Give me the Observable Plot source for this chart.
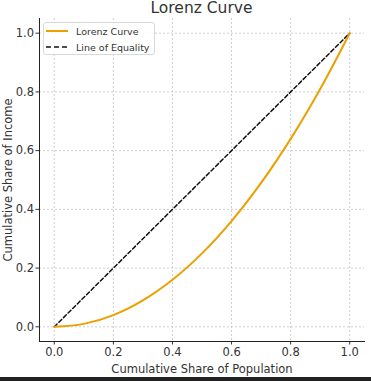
<!DOCTYPE html>
<html>
<head>
<meta charset="utf-8">
<script src="https://cdn.jsdelivr.net/npm/d3@7"></script>
<script src="https://cdn.jsdelivr.net/npm/@observablehq/plot@0.6"></script>
<style>
  html, body { margin: 0; padding: 0; background: #fff; }
  #wrap { position: relative; width: 371px; height: 381px; overflow: hidden; font-family: "DejaVu Sans", sans-serif; }
  #title { position: absolute; left: 0; width: 403px; top: 0px; line-height: 16px; text-align: center; font-size: 15.5px; color: #333; white-space: nowrap; }
  #chart { position: absolute; left: 0; top: 0; }
  #legend { position: absolute; left: 43px; top: 22px; width: 110px; height: 31px; border: 1px solid #d8d8d8; border-radius: 3px; background: rgba(255,255,255,0.85); font-size: 9.5px; color: #333; white-space: nowrap; }
  .row { position: absolute; left: 2px; height: 12px; display: flex; align-items: center; white-space: nowrap; }
  .sw { width: 22px; height: 4px; margin-right: 8px; flex: none; display: block; }
  #bar { position: absolute; left: 0; top: 377px; width: 371px; height: 4px; background: #222; }
</style>
</head>
<body>
<div id="wrap">
  <div id="chart"></div>
  <div id="title">Lorenz Curve</div>
  <div id="legend">
    <div class="row" style="top:2px"><svg class="sw"><line x1="0" x2="22" y1="2" y2="2" stroke="#eba000" stroke-width="2"/></svg><span>Lorenz Curve</span></div>
    <div class="row" style="top:18px"><svg class="sw"><line x1="0" x2="22" y1="2" y2="2" stroke="#111" stroke-width="1.5" stroke-dasharray="5,3"/></svg><span>Line of Equality</span></div>
  </div>
  <div id="bar"></div>
</div>
<script>
const population = [0, 0.1, 0.2, 0.3, 0.4, 0.5, 0.6, 0.7, 0.8, 0.9, 1.0];
const incomeShare = [0, 0.01, 0.04, 0.09, 0.16, 0.25, 0.36, 0.49, 0.64, 0.81, 1.0];
const equalityX = [0, 1];
const equalityY = [0, 1];
const ticks = [0, 0.2, 0.4, 0.6, 0.8, 1.0];
const xLabel = "Cumulative Share of Population";
const yLabel = "Cumulative Share of Income";

const lorenz = population.map((x, i) => ({x, y: incomeShare[i]}));
const equality = equalityX.map((x, i) => ({x, y: equalityY[i]}));
const dom = [-0.05, 1.05];

const chart = Plot.plot({
  width: 371,
  height: 378,
  marginLeft: 39,
  marginRight: 7,
  marginTop: 18,
  marginBottom: 37,
  style: {fontFamily: "DejaVu Sans, sans-serif", fontSize: "11px", color: "#333", background: "transparent"},
  x: {domain: dom, ticks: ticks, tickFormat: d3.format(".1f")},
  y: {domain: dom, ticks: ticks, tickFormat: d3.format(".1f")},
  marks: [
    Plot.gridX(ticks, {stroke: "#bbb", strokeOpacity: 0.7, strokeDasharray: "2,2"}),
    Plot.gridY(ticks, {stroke: "#bbb", strokeOpacity: 0.7, strokeDasharray: "2,2"}),
    Plot.axisX(ticks, {tickSize: 3.5, tickPadding: 3, label: null, fontSize: 11.5, tickFormat: d3.format(".1f")}),
    Plot.axisY(ticks, {tickSize: 3.5, tickPadding: 2, label: null, fontSize: 11.5, tickFormat: d3.format(".1f")}),
    Plot.axisX({frameAnchor: "bottom", ticks: [], label: xLabel, labelAnchor: "center", labelArrow: "none", labelOffset: 31, fontSize: 11.5}),
    Plot.axisY({frameAnchor: "left", ticks: [], label: yLabel, labelAnchor: "center", labelArrow: "none", labelOffset: 36, fontSize: 11.5}),
    Plot.frame({anchor: "left", stroke: "#222", strokeWidth: 1}),
    Plot.frame({anchor: "bottom", stroke: "#222", strokeWidth: 1}),
    Plot.line(equality, {x: "x", y: "y", stroke: "#111", strokeWidth: 1.5, strokeDasharray: "4,2.5"}),
    Plot.line(lorenz, {x: "x", y: "y", stroke: "#eba000", strokeWidth: 2, curve: "catmull-rom"})
  ]
});
document.getElementById("chart").appendChild(chart);
</script>
</body>
</html>
